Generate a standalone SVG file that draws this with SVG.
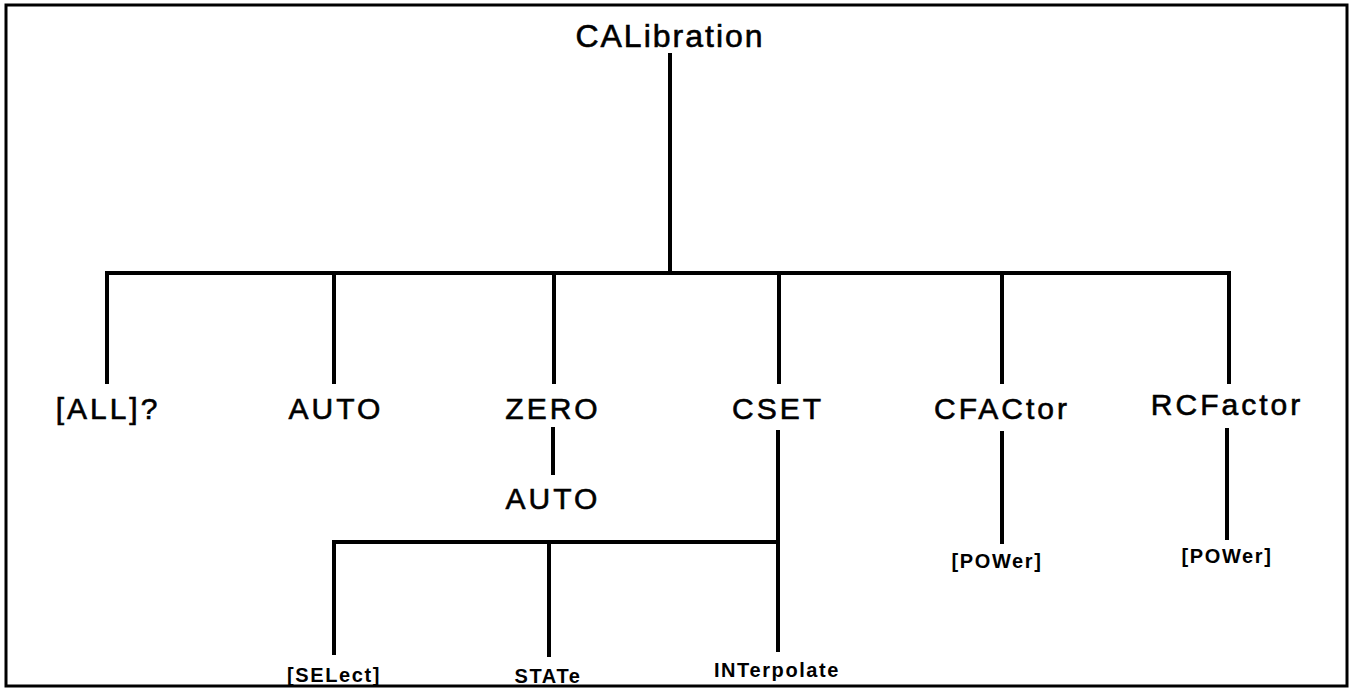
<svg xmlns="http://www.w3.org/2000/svg" width="1356" height="695" viewBox="0 0 1356 695">
<style>
.big{font-family:"Liberation Sans",Arial,sans-serif;font-size:30px;fill:#000;stroke:#000;stroke-width:0.6;text-anchor:middle;letter-spacing:3px}
.top{font-size:32px;letter-spacing:2px}
.sm{font-family:"Liberation Sans",Arial,sans-serif;font-size:20px;font-weight:bold;fill:#000;text-anchor:middle;letter-spacing:1.6px}
.ln{stroke:#000;stroke-width:4;fill:none;stroke-linecap:square}
</style>
<rect x="6" y="5" width="1341" height="681" fill="#fff" stroke="#000" stroke-width="3"/>
<g id="connectors">
<path class="ln" d="M670,55 V273"/>
<path class="ln" d="M107,382 V273 H1229 V382"/>
<path class="ln" d="M334,273 V382 M554,273 V382 M779,273 V382 M1002,273 V382"/>
<path class="ln" d="M553,429 V473"/>
<path class="ln" d="M334,653 V542 H778"/>
<path class="ln" d="M778,432 V650 M549,542 V655"/>
<path class="ln" d="M1002,433 V542 M1227,430 V538"/>
</g>
<g id="n-calibration"><text class="big top" x="670" y="47">CALibration</text></g>
<g id="n-all"><text class="big" x="108" y="419">[ALL]?</text></g>
<g id="n-auto"><text class="big" x="336" y="419">AUTO</text></g>
<g id="n-zero"><text class="big" x="553" y="419">ZERO</text></g>
<g id="n-cset"><text class="big" x="778" y="419">CSET</text></g>
<g id="n-cfactor"><text class="big" x="1002" y="419">CFACtor</text></g>
<g id="n-rcfactor"><text class="big" x="1227" y="415">RCFactor</text></g>
<g id="n-zero-auto"><text class="big" x="553" y="509">AUTO</text></g>
<g id="n-select"><text class="sm" x="334" y="682">[SELect]</text></g>
<g id="n-state"><text class="sm" x="548" y="683">STATe</text></g>
<g id="n-interpolate"><text class="sm" x="777" y="677">INTerpolate</text></g>
<g id="n-power1"><text class="sm" x="997" y="568">[POWer]</text></g>
<g id="n-power2"><text class="sm" x="1227" y="563">[POWer]</text></g>
</svg>
